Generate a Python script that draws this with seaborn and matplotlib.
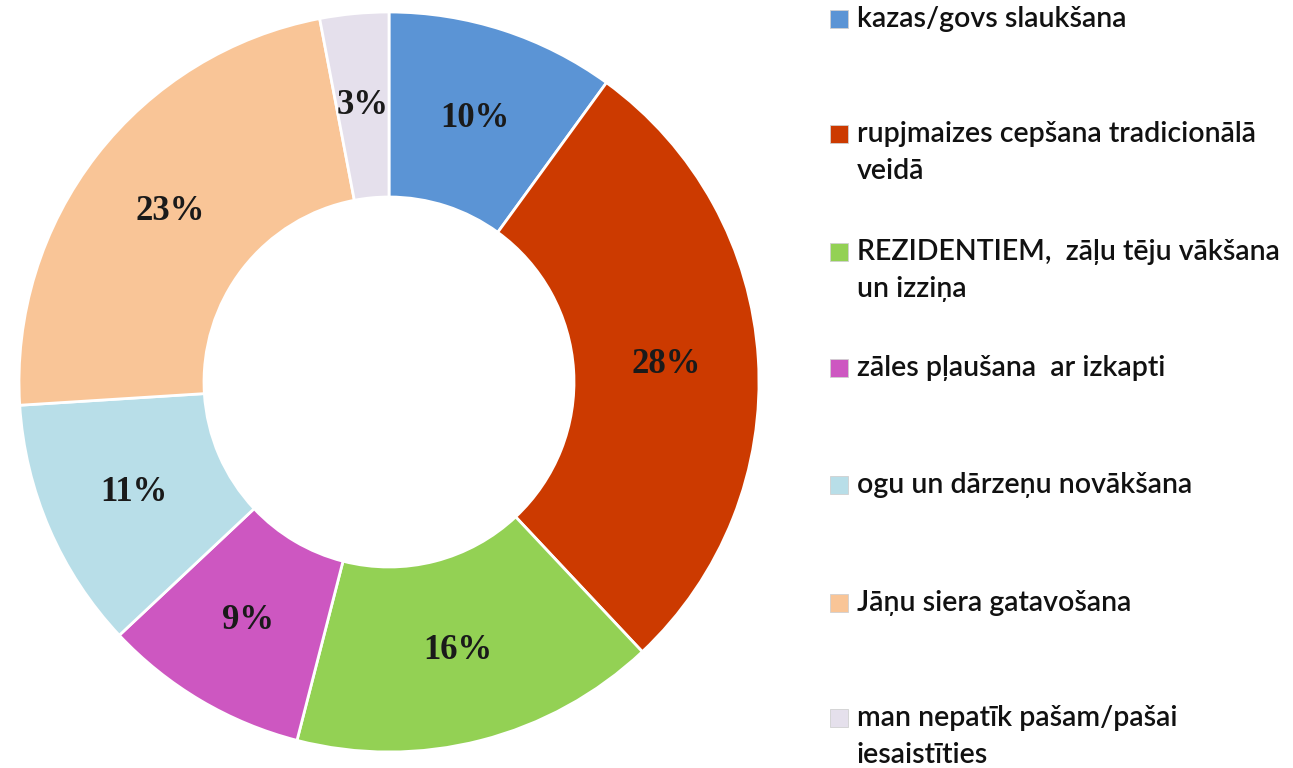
import matplotlib
matplotlib.use("Agg")
import matplotlib.pyplot as plt
from matplotlib.patches import Rectangle
import seaborn as sns

# Data
categories = [
    "kazas/govs slaukšana",
    "rupjmaizes cepšana tradicionālā\nveidā",
    "REZIDENTIEM,  zāļu tēju vākšana\nun izziņa",
    "zāles pļaušana  ar izkapti",
    "ogu un dārzeņu novākšana",
    "Jāņu siera gatavošana",
    "man nepatīk pašam/pašai\niesaistīties",
]
shares = [10, 28, 16, 9, 11, 23, 3]
colors = ["#5B94D5", "#CC3A00", "#93D154", "#CD57C1", "#B8DEE8", "#F9C597", "#E5E0EC"]

sns.set_theme(style="white")
plt.rcParams["font.family"] = ["Lato", "DejaVu Sans"]

fig = plt.figure(figsize=(12.93, 7.68), dpi=100)
fig.patch.set_facecolor("white")

# Donut placed to match the reference (center ~ (389, 382) px, radius ~370 px)
W, H = 1293, 768
cx, cy, r = 389, 382, 370
ax = fig.add_axes([(cx - r) / W, (H - cy - r) / H, 2 * r / W, 2 * r / H])

wedges, texts, autotexts = ax.pie(
    shares,
    colors=colors,
    startangle=90,
    counterclock=False,
    radius=1.0,
    autopct="%1.0f%%",
    pctdistance=0.75,
    wedgeprops=dict(width=0.5, edgecolor="white", linewidth=2),
    textprops=dict(family=["Liberation Serif", "DejaVu Serif"], fontweight="bold",
                   fontsize=25, color="#1a1a1a"),
)
ax.set_xlim(-1.0, 1.0)
ax.set_ylim(-1.0, 1.0)
ax.set_aspect("equal")
ax.axis("off")

# Legend drawn manually to keep the uneven row layout
row_y = [19, 134, 252, 368, 485, 603, 718]
for color, label, y in zip(colors, categories, row_y):
    fig.add_artist(Rectangle((830 / W, (H - y - 9) / H), 18 / W, 18 / H,
                             facecolor=color, edgecolor="#d0d0d0", linewidth=0.6,
                             transform=fig.transFigure))
    lines = label.split("\n")
    for i, line in enumerate(lines):
        fig.text(857 / W, (H - y - i * 37) / H, line, fontsize=20.5,
                 fontweight="semibold", color="#111111", va="center", ha="left")

fig.savefig("out.png", dpi=100, facecolor="white")
